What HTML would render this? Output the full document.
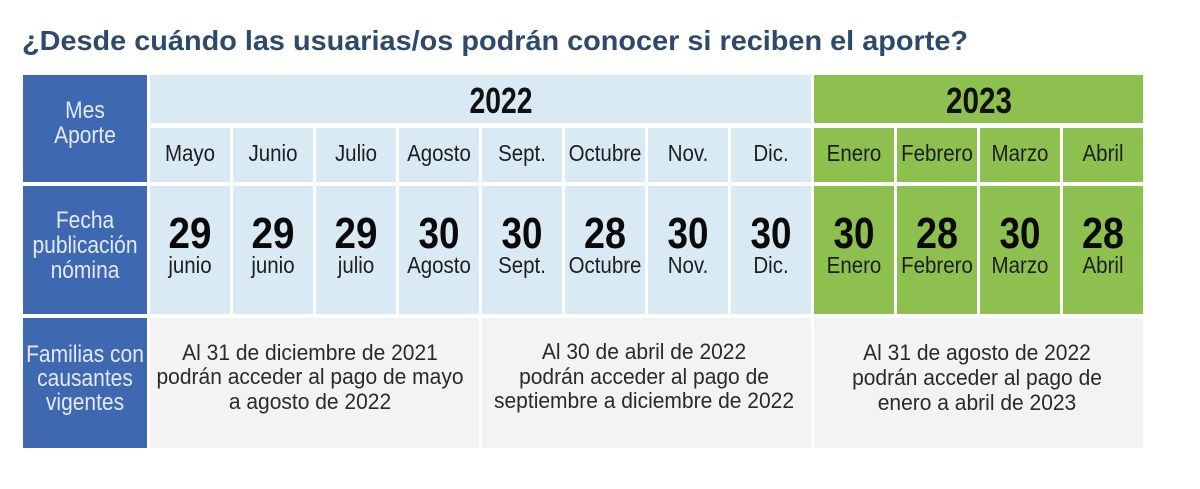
<!DOCTYPE html>
<html>
<head>
<meta charset="utf-8">
<style>
html,body{margin:0;padding:0;background:#fff;}
svg{display:block;}
text{font-family:"Liberation Sans",Arial,sans-serif;}
</style>
</head>
<body>
<svg width="1200" height="489" viewBox="0 0 1200 489" xmlns="http://www.w3.org/2000/svg">
<rect x="0" y="0" width="1200" height="489" fill="#ffffff"/>
<!-- Title -->
<text x="22" y="50" font-size="28" font-weight="bold" fill="#2e4a6b" textLength="946" lengthAdjust="spacingAndGlyphs">¿Desde cuándo las usuarias/os podrán conocer si reciben el aporte?</text>

<!-- Left blue column -->
<rect x="23" y="75" width="124" height="107" fill="#3e68b0"/>
<rect x="23" y="186" width="124" height="128" fill="#3e68b0"/>
<rect x="23" y="318" width="124" height="130" fill="#3e68b0"/>
<g fill="#e2e9f6" font-size="24" text-anchor="middle">
<text transform="translate(85,118) scale(0.875,1)">Mes</text>
<text transform="translate(85,143) scale(0.875,1)">Aporte</text>
<text transform="translate(85,228) scale(0.875,1)">Fecha</text>
<text transform="translate(85,253) scale(0.875,1)">publicación</text>
<text transform="translate(85,278) scale(0.875,1)">nómina</text>
<text transform="translate(85,362) scale(0.875,1)">Familias con</text>
<text transform="translate(85,386) scale(0.875,1)">causantes</text>
<text transform="translate(85,410) scale(0.875,1)">vigentes</text>
</g>

<!-- Year headers -->
<rect x="150" y="75" width="661" height="48" fill="#daeaf5"/>
<rect x="814" y="75" width="329" height="48" fill="#8ec04f"/>
<text x="501" y="113" font-size="36" font-weight="bold" fill="#111" text-anchor="middle" textLength="63" lengthAdjust="spacingAndGlyphs">2022</text>
<text x="979" y="113" font-size="36" font-weight="bold" fill="#111" text-anchor="middle" textLength="66" lengthAdjust="spacingAndGlyphs">2023</text>

<!-- Month cells -->
<g>
<rect x="150" y="128" width="80" height="54" fill="#daeaf5"/>
<rect x="233" y="128" width="80" height="54" fill="#daeaf5"/>
<rect x="316" y="128" width="80" height="54" fill="#daeaf5"/>
<rect x="399" y="128" width="80" height="54" fill="#daeaf5"/>
<rect x="482" y="128" width="80" height="54" fill="#daeaf5"/>
<rect x="565" y="128" width="80" height="54" fill="#daeaf5"/>
<rect x="648" y="128" width="80" height="54" fill="#daeaf5"/>
<rect x="731" y="128" width="80" height="54" fill="#daeaf5"/>
<rect x="814" y="128" width="80" height="54" fill="#8ec04f"/>
<rect x="897" y="128" width="80" height="54" fill="#8ec04f"/>
<rect x="980" y="128" width="80" height="54" fill="#8ec04f"/>
<rect x="1063" y="128" width="80" height="54" fill="#8ec04f"/>

<rect x="150" y="186" width="80" height="128" fill="#daeaf5"/>
<rect x="233" y="186" width="80" height="128" fill="#daeaf5"/>
<rect x="316" y="186" width="80" height="128" fill="#daeaf5"/>
<rect x="399" y="186" width="80" height="128" fill="#daeaf5"/>
<rect x="482" y="186" width="80" height="128" fill="#daeaf5"/>
<rect x="565" y="186" width="80" height="128" fill="#daeaf5"/>
<rect x="648" y="186" width="80" height="128" fill="#daeaf5"/>
<rect x="731" y="186" width="80" height="128" fill="#daeaf5"/>
<rect x="814" y="186" width="80" height="128" fill="#8ec04f"/>
<rect x="897" y="186" width="80" height="128" fill="#8ec04f"/>
<rect x="980" y="186" width="80" height="128" fill="#8ec04f"/>
<rect x="1063" y="186" width="80" height="128" fill="#8ec04f"/>
</g>

<!-- Month labels -->
<g font-size="23.5" fill="#1e1e1e" text-anchor="middle">
<text transform="translate(190,161) scale(0.872,1)">Mayo</text>
<text transform="translate(273,161) scale(0.872,1)">Junio</text>
<text transform="translate(356,161) scale(0.872,1)">Julio</text>
<text transform="translate(439,161) scale(0.872,1)">Agosto</text>
<text transform="translate(522,161) scale(0.872,1)">Sept.</text>
<text transform="translate(605,161) scale(0.872,1)">Octubre</text>
<text transform="translate(688,161) scale(0.872,1)">Nov.</text>
<text transform="translate(771,161) scale(0.872,1)">Dic.</text>
<text transform="translate(854,161) scale(0.872,1)">Enero</text>
<text transform="translate(937,161) scale(0.872,1)">Febrero</text>
<text transform="translate(1020,161) scale(0.872,1)">Marzo</text>
<text transform="translate(1103,161) scale(0.872,1)">Abril</text>
</g>

<!-- Big numbers -->
<g font-size="44" font-weight="bold" fill="#0a0a0a" text-anchor="middle">
<text x="190" y="248" textLength="43" lengthAdjust="spacingAndGlyphs">29</text>
<text x="273" y="248" textLength="43" lengthAdjust="spacingAndGlyphs">29</text>
<text x="356" y="248" textLength="43" lengthAdjust="spacingAndGlyphs">29</text>
<text x="439" y="248" textLength="41" lengthAdjust="spacingAndGlyphs">30</text>
<text x="522" y="248" textLength="41" lengthAdjust="spacingAndGlyphs">30</text>
<text x="605" y="248" textLength="42" lengthAdjust="spacingAndGlyphs">28</text>
<text x="688" y="248" textLength="41" lengthAdjust="spacingAndGlyphs">30</text>
<text x="771" y="248" textLength="41" lengthAdjust="spacingAndGlyphs">30</text>
<text x="854" y="248" textLength="41" lengthAdjust="spacingAndGlyphs">30</text>
<text x="937" y="248" textLength="42" lengthAdjust="spacingAndGlyphs">28</text>
<text x="1020" y="248" textLength="41" lengthAdjust="spacingAndGlyphs">30</text>
<text x="1103" y="248" textLength="42" lengthAdjust="spacingAndGlyphs">28</text>
</g>

<!-- Sub month labels -->
<g font-size="23.5" fill="#1e1e1e" text-anchor="middle">
<text transform="translate(190,273) scale(0.872,1)">junio</text>
<text transform="translate(273,273) scale(0.872,1)">junio</text>
<text transform="translate(356,273) scale(0.872,1)">julio</text>
<text transform="translate(439,273) scale(0.872,1)">Agosto</text>
<text transform="translate(522,273) scale(0.872,1)">Sept.</text>
<text transform="translate(605,273) scale(0.872,1)">Octubre</text>
<text transform="translate(688,273) scale(0.872,1)">Nov.</text>
<text transform="translate(771,273) scale(0.872,1)">Dic.</text>
<text transform="translate(854,273) scale(0.872,1)">Enero</text>
<text transform="translate(937,273) scale(0.872,1)">Febrero</text>
<text transform="translate(1020,273) scale(0.872,1)">Marzo</text>
<text transform="translate(1103,273) scale(0.872,1)">Abril</text>
</g>

<!-- Families row -->
<rect x="150" y="318" width="329" height="130" fill="#f4f3f4"/>
<rect x="482" y="318" width="329" height="130" fill="#f4f3f4"/>
<rect x="814" y="318" width="329" height="130" fill="#f4f3f4"/>
<g font-size="22" fill="#2a2a2a" text-anchor="middle">
<text transform="translate(310,360) scale(0.955,1)">Al 31 de diciembre de 2021</text>
<text transform="translate(310,384) scale(0.955,1)">podrán acceder al pago de mayo</text>
<text transform="translate(310,409) scale(0.955,1)">a agosto de 2022</text>
<text transform="translate(644,359) scale(0.955,1)">Al 30 de abril de 2022</text>
<text transform="translate(644,384) scale(0.955,1)">podrán acceder al pago de</text>
<text transform="translate(644,408) scale(0.955,1)">septiembre a diciembre de 2022</text>
<text transform="translate(977,360) scale(0.955,1)">Al 31 de agosto de 2022</text>
<text transform="translate(977,385) scale(0.955,1)">podrán acceder al pago de</text>
<text transform="translate(977,410) scale(0.955,1)">enero a abril de 2023</text>
</g>
</svg>
</body>
</html>
